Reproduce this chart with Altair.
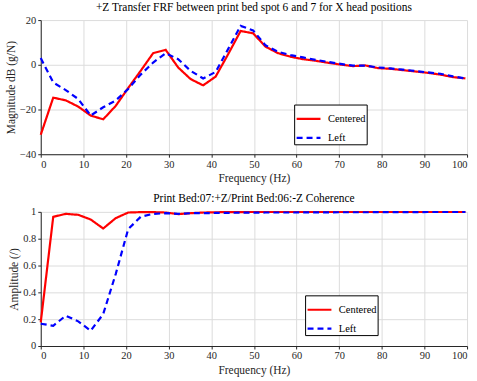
import altair as alt
import pandas as pd

freq = [0, 2.93, 5.86, 8.79, 11.72, 14.65, 17.58, 20.51, 23.44, 26.37, 29.30, 32.23,
        35.16, 38.09, 41.02, 43.95, 46.88, 49.80, 52.73, 55.66, 58.59, 61.52, 64.45,
        67.38, 70.31, 73.24, 76.17, 79.10, 82.03, 84.96, 87.89, 90.82, 93.75, 96.68, 99.61]

frf_centered = [-31.3, -14.7, -15.9, -18.7, -22.7, -24.4, -18.4, -10.4, -2.7, 5.2, 6.7, -1.2,
                -6.4, -9.2, -5.3, 4.7, 15.1, 14.1, 8.1, 5.2, 3.6, 2.5, 1.8,
                0.9, 0.1, -0.6, -0.3, -1.5, -1.8, -2.4, -3.0, -3.6, -4.4, -5.5, -6.1]
frf_left = [3.0, -7.9, -11.3, -15.3, -22.7, -19.0, -16.0, -10.8, -4.4, 1.0, 5.2, 2.5,
            -2.7, -6.1, -3.2, 7.0, 17.4, 15.4, 8.7, 5.8, 4.3, 3.3, 2.2,
            1.3, 0.4, -0.4, -0.4, -1.2, -1.6, -2.2, -2.8, -3.4, -4.0, -5.2, -6.1]

coh_centered = [0.176, 0.963, 0.985, 0.978, 0.943, 0.876, 0.953, 0.995, 0.998, 0.998, 0.995, 0.983,
                0.990, 0.995, 0.997, 0.998, 0.998, 0.999, 0.999, 0.999, 0.999, 0.999, 0.999,
                0.999, 0.999, 0.999, 0.999, 0.999, 0.999, 0.999, 0.999, 0.999, 0.999, 0.999, 0.999]
coh_left = [0.166, 0.151, 0.226, 0.184, 0.114, 0.238, 0.536, 0.871, 0.963, 0.985, 0.990, 0.985,
            0.990, 0.990, 0.992, 0.993, 0.994, 0.994, 0.995, 0.995, 0.995, 0.996, 0.996,
            0.996, 0.997, 0.997, 0.997, 0.998, 0.998, 0.998, 0.998, 0.999, 0.999, 0.999, 0.999]

series = ["Centered", "Left"]

frf = pd.DataFrame({
    "f": freq * 2,
    "v": frf_centered + frf_left,
    "s": [series[0]] * len(freq) + [series[1]] * len(freq),
})
coh = pd.DataFrame({
    "f": freq * 2,
    "v": coh_centered + coh_left,
    "s": [series[0]] * len(freq) + [series[1]] * len(freq),
})

FONT = "Liberation Serif"


def legend_cfg(x, y, rowpad, loff):
    return alt.Legend(orient="none", legendX=x, legendY=y, symbolType="stroke",
                      symbolSize=576, symbolStrokeWidth=2.2, labelFontSize=10.5,
                      labelFont=FONT, labelColor="#000", strokeColor="#000",
                      fillColor="#fff", padding=1, rowPadding=rowpad, labelOffset=loff,
                      title=None)


xenc = alt.X("f:Q", scale=alt.Scale(domain=[0, 100], nice=False),
             axis=alt.Axis(values=list(range(0, 101, 10)), title="Frequency (Hz)"))


def panel(df, ydom, yvals, fmt, ytitle, title, leg):
    return alt.Chart(df).mark_line(strokeWidth=2.2).encode(
        x=xenc,
        y=alt.Y("v:Q", scale=alt.Scale(domain=ydom, nice=False),
                axis=alt.Axis(values=yvals, title=ytitle, format=fmt)),
        color=alt.Color("s:N", scale=alt.Scale(domain=series, range=["#ff0000", "#0000ff"]),
                        legend=leg),
        strokeDash=alt.StrokeDash("s:N", scale=alt.Scale(domain=series, range=[[1, 0], [6, 4]]),
                                  legend=leg),
    ).properties(width=429, height=135, title=title)


top = panel(frf, [-40, 20], [-40, -20, 0, 20], "d", "Magnitude dB (g/N)",
            "+Z Transfer FRF between print bed spot 6 and 7 for X head positions",
            legend_cfg(255, 85, -7, 6))
bottom = panel(coh, [0, 1], [0, 0.2, 0.4, 0.6, 0.8, 1], "~r", "Amplitude (/)",
               "Print Bed:07:+Z/Print Bed:06:-Z Coherence",
               legend_cfg(266, 84, -8, 6))

chart = alt.vconcat(top, bottom, spacing=9).resolve_scale(
    color="independent", strokeDash="independent"
).properties(
    padding={"left": 5, "top": 0, "right": 7, "bottom": 2},
    background="white",
).configure(font=FONT).configure_view(stroke=None).configure_axis(
    labelFont=FONT, titleFont=FONT, labelFontSize=10.5, titleFontSize=11.5,
    labelColor="#262626", titleColor="#262626", titleFontWeight="normal",
    domainColor="#262626", tickColor="#262626", tickSize=3, gridColor="#dcdcdc",
    labelPadding=2, titlePadding=3,
).configure_title(
    font=FONT, fontSize=11.5, fontWeight="normal", color="#000", offset=2
)

chart.save("out.html", embed_options={"renderer": "svg", "actions": False})
